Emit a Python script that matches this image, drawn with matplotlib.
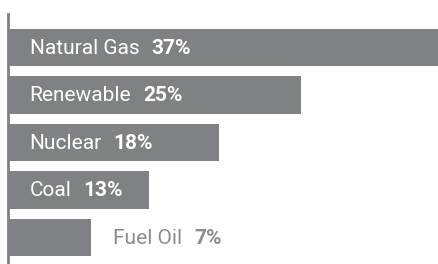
import matplotlib
matplotlib.use("Agg")
import matplotlib.pyplot as plt
from matplotlib.transforms import offset_copy

# data
sources = ["Natural Gas", "Renewable", "Nuclear", "Coal", "Fuel Oil"]
shares = [37, 25, 18, 13, 7]          # labelled values
bar_lengths = [37, 25, 18, 12, 7]     # lengths as drawn in the original
inside = [True, True, True, True, False]

bar_color = "#808184"

plt.rcParams["font.family"] = ["Roboto", "DejaVu Sans"]

fig = plt.figure(figsize=(4.38, 2.64), dpi=100)
ax = fig.add_axes([8 / 438, 0, 430 / 438, 250 / 264])

pos = list(range(len(sources)))
ax.barh(pos, bar_lengths, height=0.78, color=bar_color, left=0.08)
ax.set_xlim(0, 36.8)
ax.set_ylim(4.558, -0.705)

for s in ["top", "right", "bottom"]:
    ax.spines[s].set_visible(False)
ax.spines["left"].set_color(bar_color)
ax.spines["left"].set_linewidth(2)
ax.set_xticks([])
ax.set_yticks([])

fig.canvas.draw()
renderer = fig.canvas.get_renderer()

for i, (name, val, ln, ins) in enumerate(zip(sources, shares, bar_lengths, inside)):
    x = 1.85 if ins else ln + 2.0
    col = "white" if ins else "#8a8b8e"
    t = ax.text(x, i + 0.02, name, color=col, fontsize=15, va="center", ha="left")
    bb = t.get_window_extent(renderer=renderer)
    dx = bb.width * 72 / fig.dpi + 8.5
    tr = offset_copy(ax.transData, fig=fig, x=dx, y=0, units="points")
    ax.text(x, i + 0.02, f"{val}%", color=col, fontsize=15, fontweight="bold",
            va="center", ha="left", transform=tr)

fig.savefig("out.png", dpi=100)
